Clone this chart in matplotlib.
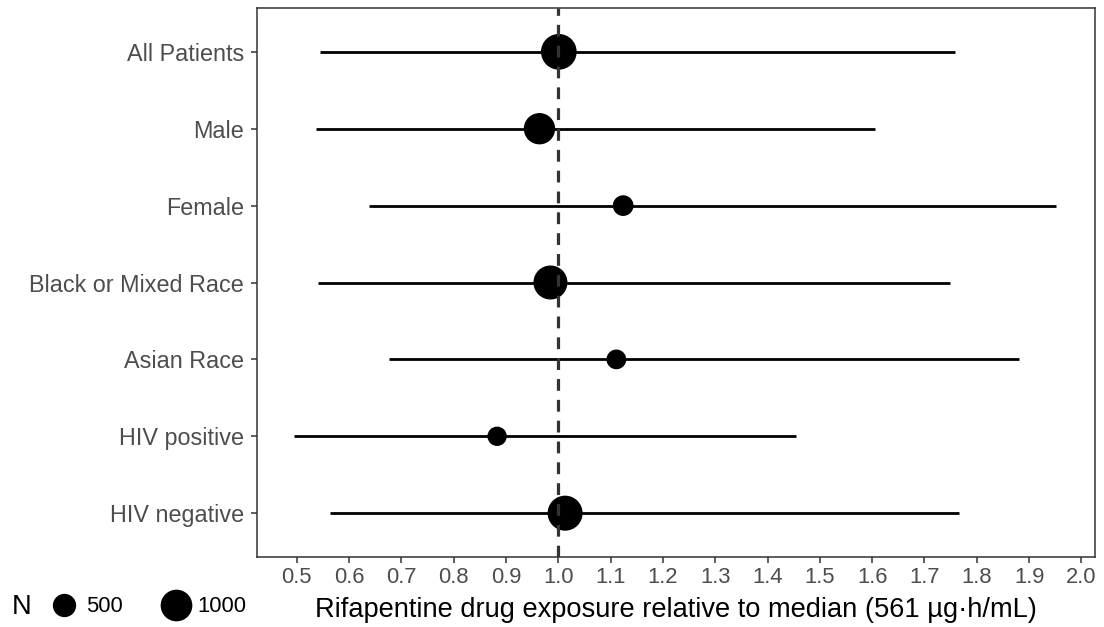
import matplotlib
matplotlib.use("Agg")
import matplotlib.pyplot as plt
from matplotlib.lines import Line2D
import numpy as np

plt.rcParams["font.family"] = ["Liberation Sans", "DejaVu Sans"]
plt.rcParams["lines.scale_dashes"] = False

# subgroups, top to bottom
groups = ["All Patients", "Male", "Female", "Black or Mixed Race",
          "Asian Race", "HIV positive", "HIV negative"]
estimate = [1.001, 0.964, 1.124, 0.985, 1.111, 0.883, 1.013]
lower = [0.544, 0.536, 0.639, 0.540, 0.677, 0.495, 0.563]
upper = [1.759, 1.605, 1.952, 1.748, 1.881, 1.454, 1.766]
n_pts = [1300, 975, 380, 1170, 340, 325, 1245]

legend_n = [500, 1000]
xticks = [0.5, 0.6, 0.7, 0.8, 0.9, 1.0, 1.1, 1.2, 1.3, 1.4, 1.5, 1.6, 1.7, 1.8, 1.9, 2.0]

DPI = 100
PX = 72.0 / DPI  # points per pixel


def marker_diam(n):
    # point diameter (in points) grows with sqrt(N)
    return (3.0 + 0.907 * np.sqrt(n)) * PX


fig = plt.figure(figsize=(11.04, 6.27), dpi=DPI)
ax = fig.add_axes([257 / 1104, 1 - 557 / 627, (1095 - 257) / 1104, (557 - 8) / 627])

ypos = np.arange(len(groups))[::-1] + 1

ax.hlines(ypos, lower, upper, color="black", linewidth=2.0, capstyle="butt", zorder=2)
sizes = [marker_diam(n) ** 2 for n in n_pts]
ax.scatter(estimate, ypos, s=sizes, color="black", linewidths=0, zorder=3)
ax.axvline(1.0, color="#333333", linewidth=2.3, linestyle=(0, (8.5, 6.5)), zorder=4)

ax.set_xlim(0.424, 2.026)
ax.set_ylim(0.43, 7.57)
ax.set_xticks(xticks)
ax.set_xticklabels([f"{t:.1f}" for t in xticks])
ax.set_yticks(ypos)
ax.set_yticklabels(groups)

ax.tick_params(axis="both", colors="#333333", width=1.1, length=4.5, labelsize=15.8,
               labelcolor="#4D4D4D")
ax.tick_params(axis="x", pad=3)
ax.tick_params(axis="y", labelsize=16.8, pad=5)
for sp in ax.spines.values():
    sp.set_color("#333333")
    sp.set_linewidth(1.1)

ax.set_xlabel("Rifapentine drug exposure relative to median (561 \u00b5g\u00b7h/mL)",
              fontsize=19.6, color="black", labelpad=6)

# size legend below the y labels
fig.text(12 / 1104, 1 - 607 / 627, "N", fontsize=19.6, va="center", ha="left")
handles = [Line2D([], [], linestyle="none", marker="o", color="black",
                  markersize=marker_diam(n), markeredgewidth=0) for n in legend_n]
fig.legend(handles, [str(n) for n in legend_n], loc="center left",
           bbox_to_anchor=(51 / 1104, 1 - 607 / 627), ncol=2, frameon=False,
           fontsize=15.8, handlelength=1.2, handletextpad=0.38, columnspacing=1.85,
           borderpad=0, borderaxespad=0)

fig.savefig("out.png", dpi=DPI)
